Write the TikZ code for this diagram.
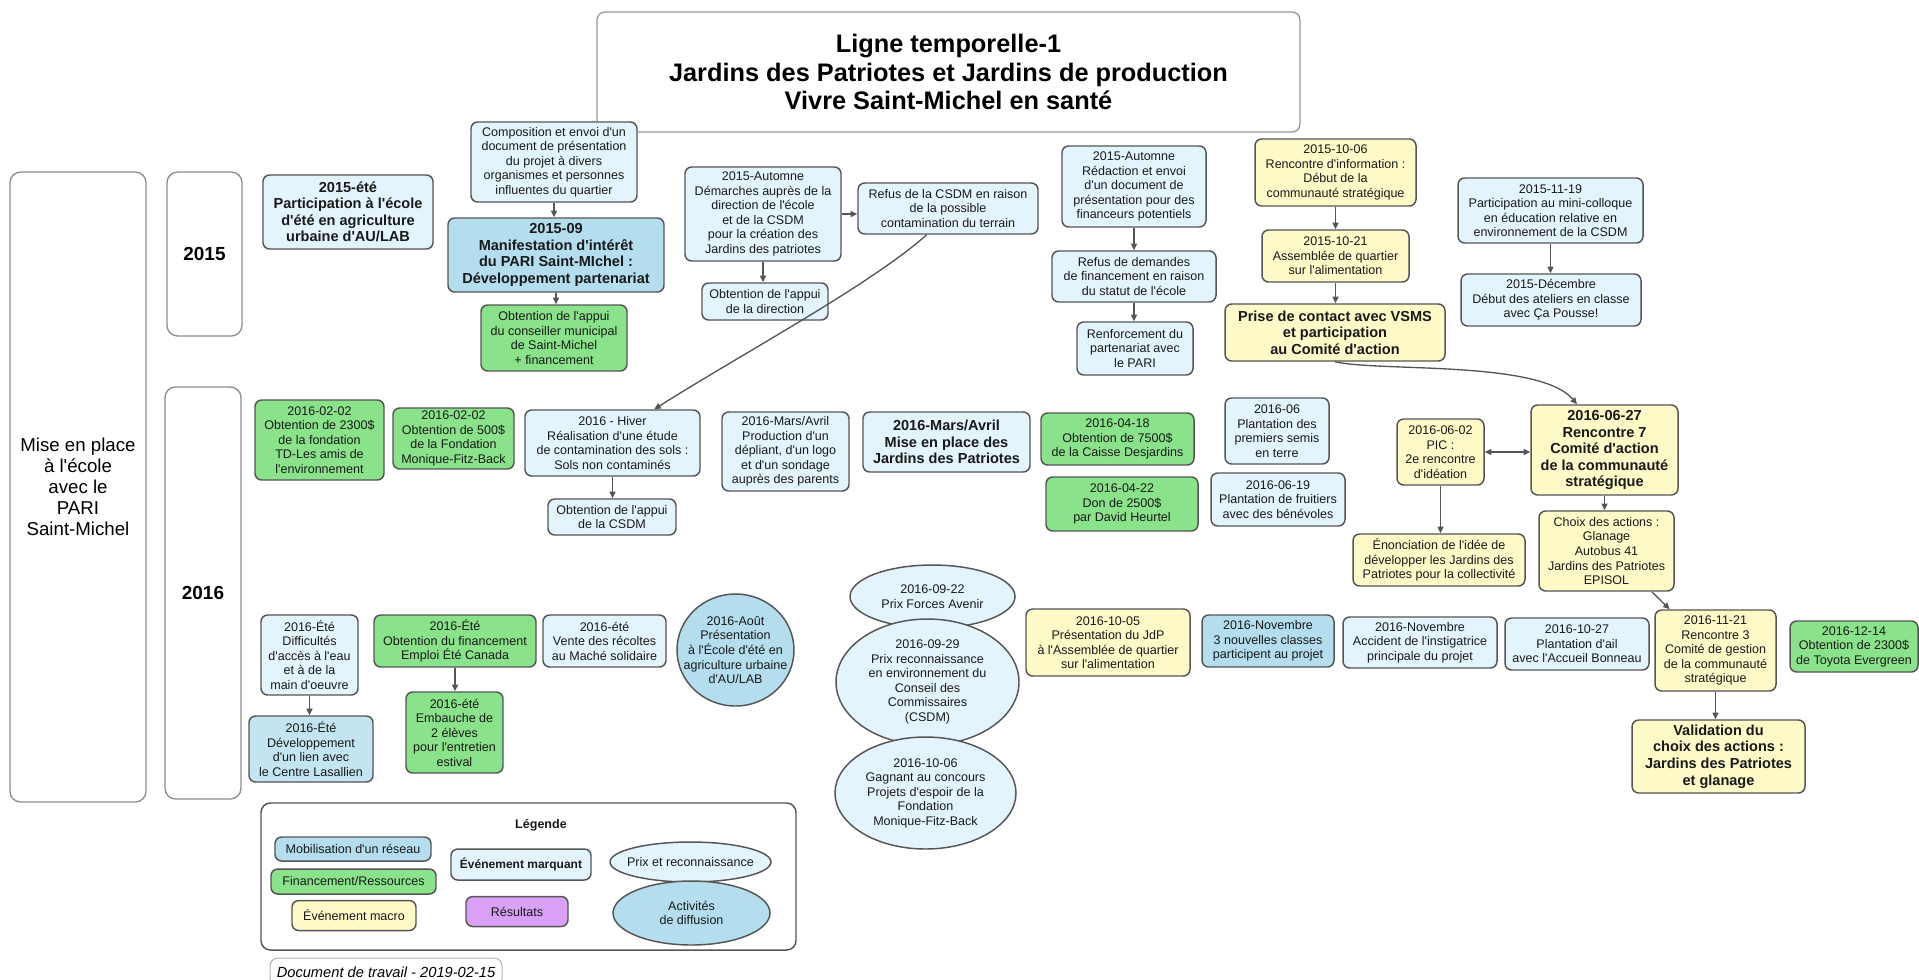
\documentclass[tikz,border=0pt]{standalone}
\usepackage{fontspec}
\setmainfont{Liberation Sans}[Ligatures=TeXOff]
\usetikzlibrary{arrows.meta,shapes.geometric}

\definecolor{pale}{RGB}{228,244,252}
\definecolor{mob}{RGB}{180,221,238}
\definecolor{fin}{RGB}{138,226,138}
\definecolor{macro}{RGB}{253,250,200}
\definecolor{res}{RGB}{218,160,245}
\definecolor{bord}{RGB}{85,85,85}
\definecolor{cadre}{RGB}{140,140,140}

\tikzset{every picture/.style={line width=0.75pt}}
\tikzset{
  wh/.style 2 args={minimum width=#1*0.75pt,minimum height=#2*0.75pt},
  evt/.style={draw=bord,line width=1.1pt,rounded corners=5pt,inner sep=0pt,align=center,text=black!90,font=\fontsize{9.4}{10.9}\selectfont},
  fort/.style={font=\bfseries\fontsize{10.9}{12.4}\selectfont},
  pl/.style={evt,fill=pale},
  mb/.style={evt,fill=mob},
  fn/.style={evt,fill=fin},
  mc/.style={evt,fill=macro},
  rs/.style={evt,fill=res},
  elli/.style={ellipse,draw=bord,line width=1.1pt,inner sep=0pt},
  etxt/.style={align=center,inner sep=0pt,text=black!90,font=\fontsize{9.4}{10.9}\selectfont},
  cadrebox/.style={draw=cadre,line width=1pt,rounded corners=8pt,fill=white,inner sep=0pt,align=center},
  fl/.style={draw=bord,line width=1pt,-{Triangle[length=5pt,width=4.5pt]}},
}

\begin{document}
\begin{tikzpicture}[x=0.75pt,y=0.75pt,yscale=-1,xscale=1]
\useasboundingbox (0,0) rectangle (1919,979);
\clip (0,0) rectangle (1919,979);

%Shape: Frames
\node[cadrebox,wh={136}{630},font=\fontsize{14}{15.75}\selectfont] (ecole) at (78,487) {Mise en place\\à l'école\\avec le\\PARI\\Saint-Michel};
\node[cadrebox,wh={75}{164},font=\bfseries\fontsize{14.2}{16}\selectfont] (an15) at (204.5,254) {2015};
\node[cadrebox,wh={76}{412},font=\bfseries\fontsize{14.2}{16}\selectfont] (an16) at (203,593) {2016};
\node[cadrebox,draw=black!40,rounded corners=6pt,wh={703}{120},font=\bfseries\fontsize{19}{21.4}\selectfont] (titre) at (948.5,72) {Ligne temporelle-1\\Jardins des Patriotes et Jardins de production\\Vivre Saint-Michel en santé};

% Text Node : 2015
\node[pl,fort,wh={170}{74}] (ete15) at (348,212) {2015-été\\Participation à l'école\\d'été en agriculture\\urbaine d'AU/LAB};
\node[pl,wh={166}{80}] (compo) at (554,162) {Composition et envoi d'un\\document de présentation\\du projet à divers\\organismes et personnes\\influentes du quartier};
\node[mb,fort,wh={216}{74}] (manif) at (556,255) {2015-09\\Manifestation d'intérêt\\du PARI Saint-MIchel :\\Développement partenariat};
\node[fn,wh={146}{66}] (conseil) at (554,338) {Obtention de l'appui\\du conseiller municipal\\de Saint-Michel\\+ financement};
\node[pl,wh={156}{94}] (demarche) at (763,214) {2015-Automne\\Démarches auprès de la\\direction de l'école\\et de la CSDM\\pour la création des\\Jardins des patriotes};
\node[pl,wh={126}{37}] (direction) at (765,301.5) {Obtention de l'appui\\de la direction};
\node[pl,wh={180}{51}] (refus) at (948,208.5) {Refus de la CSDM en raison\\de la possible\\contamination du terrain};
\node[pl,wh={144}{81}] (redac) at (1134,186.5) {2015-Automne\\Rédaction et envoi\\d'un document de\\présentation pour des\\financeurs potentiels};
\node[pl,wh={164}{51}] (refusfin) at (1134,276.5) {Refus de demandes\\de financement en raison\\du statut de l'école};
\node[pl,wh={116}{53}] (renfo) at (1135,348.5) {Renforcement du\\partenariat avec\\le PARI};
\node[mc,wh={161}{67}] (info) at (1335.5,172.5) {2015-10-06\\Rencontre d'information :\\Début de la\\communauté stratégique};
\node[mc,wh={147}{52}] (assemb) at (1335.5,256) {2015-10-21\\Assemblée de quartier\\sur l'alimentation};
\node[mc,fort,wh={220}{57}] (prise) at (1335,332.5) {Prise de contact avec VSMS\\et participation\\au Comité d'action};
\node[pl,wh={185}{65}] (colloque) at (1550.5,210.5) {2015-11-19\\Participation au mini-colloque\\en éducation relative en\\environnement de la CSDM};
\node[pl,wh={180}{52}] (decembre) at (1551,300) {2015-Décembre\\Début des ateliers en classe\\avec Ça Pousse!};

% Text Node : 2016
\node[fn,wh={129}{80}] (td) at (319.5,440) {2016-02-02\\Obtention de 2300\$\\de la fondation\\TD-Les amis de\\l'environnement};
\node[fn,wh={121}{61}] (fitz) at (453.5,438.5) {2016-02-02\\Obtention de 500\$\\de la Fondation\\Monique-Fitz-Back};
\node[pl,wh={175}{66}] (hiver) at (612.5,443) {2016 - Hiver\\Réalisation d'une étude\\de contamination des sols :\\Sols non contaminés};
\node[pl,wh={128}{36}] (appuicsdm) at (612,517) {Obtention de l'appui\\de la CSDM};
\node[pl,wh={127}{79}] (depliant) at (785.5,451.5) {2016-Mars/Avril\\Production d'un\\dépliant, d'un logo\\et d'un sondage\\auprès des parents};
\node[pl,fort,wh={167}{60}] (miseplace) at (946.5,442) {2016-Mars/Avril\\Mise en place des\\Jardins des Patriotes};
\node[fn,wh={153}{52}] (desj) at (1117.5,439) {2016-04-18\\Obtention de 7500\$\\de la Caisse Desjardins};
\node[fn,wh={152}{54}] (heurtel) at (1122,504) {2016-04-22\\Don de 2500\$\\par David Heurtel};
\node[pl,wh={104}{66}] (semis) at (1277,431) {2016-06\\Plantation des\\premiers semis\\en terre};
\node[pl,wh={134}{53}] (fruitiers) at (1278,499.5) {2016-06-19\\Plantation de fruitiers\\avec des bénévoles};
\node[mc,wh={87}{66}] (pic) at (1440.5,452) {2016-06-02\\PIC :\\2e rencontre\\d'idéation};
\node[mc,fort,wh={147}{90}] (r7) at (1604.5,450) {2016-06-27\\Rencontre 7\\Comité d'action\\de la communauté\\stratégique};
\node[mc,wh={172}{52}] (enonce) at (1439,560) {Énonciation de l'idée de\\développer les Jardins des\\Patriotes pour la collectivité};
\node[mc,wh={135}{80}] (choix) at (1606.5,551) {Choix des actions :\\Glanage\\Autobus 41\\Jardins des Patriotes\\EPISOL};

\node[pl,wh={97}{80}] (difficulte) at (309.5,655) {2016-Été\\Difficultés\\d'accès à l'eau\\et à de la\\main d'oeuvre};
\node[mb,fill=mob!80!white,wh={124}{66}] (devel) at (311,749) {2016-Été\\Développement\\d'un lien avec\\le Centre Lasallien};
\node[fn,wh={162}{52}] (finemploi) at (455,641) {2016-Été\\Obtention du financement\\Emploi Été Canada};
\node[fn,wh={97}{81}] (embauche) at (454.5,732.5) {2016-été\\Embauche de\\2 élèves\\pour l'entretien\\estival};
\node[pl,wh={123}{52}] (vente) at (604.5,641) {2016-été\\Vente des récoltes\\au Maché solidaire};

%Shape: Ellipses
\node[elli,fill=mob,wh={117}{112}] (aout) at (735.5,650) {};
\node[etxt] (aout-t) at (aout) {2016-Août\\Présentation\\à l'École d'été en\\agriculture urbaine\\d'AU/LAB};
\node[elli,fill=pale,wh={165}{63}] (forces) at (932.5,596.5) {};
\node[etxt] (forces-t) at (forces) {2016-09-22\\Prix Forces Avenir};
\node[elli,fill=pale,wh={183}{126}] (csdmprix) at (927.5,682) {};
\node[etxt] (csdmprix-t) at (csdmprix) {2016-09-29\\Prix reconnaissance\\en environnement du\\Conseil des\\Commissaires\\(CSDM)};
\node[elli,fill=pale,wh={181}{112}] (espoir) at (925.5,793) {};
\node[etxt] (espoir-t) at (espoir) {2016-10-06\\Gagnant au concours\\Projets d'espoir de la\\Fondation\\Monique-Fitz-Back};

\node[mc,wh={164}{67}] (jdp) at (1108,642.5) {2016-10-05\\Présentation du JdP\\à l'Assemblée de quartier\\sur l'alimentation};
\node[mb,wh={132}{52}] (nov3) at (1268,641) {2016-Novembre\\3 nouvelles classes\\participent au projet};
\node[pl,wh={154}{51}] (accident) at (1420,642.5) {2016-Novembre\\Accident de l'instigatrice\\principale du projet};
\node[pl,wh={144}{52}] (oct27) at (1577,644) {2016-10-27\\Plantation d'ail\\avec l'Accueil Bonneau};
\node[mc,wh={121}{81}] (r3) at (1715.5,650.5) {2016-11-21\\Rencontre 3\\Comité de gestion\\de la communauté\\stratégique};
\node[fn,wh={128}{51}] (toyota) at (1854,646.5) {2016-12-14\\Obtention de 2300\$\\de Toyota Evergreen};
\node[mc,fort,wh={173}{73}] (valid) at (1718.5,756.5) {Validation du\\choix des actions :\\Jardins des Patriotes\\et glanage};

%Straight Lines
\draw[fl] (compo.south) -- (compo.south |- manif.north);
\draw[fl] (manif.south) -- (manif.south |- conseil.north);
\draw[fl] (demarche.south) -- (demarche.south |- direction.north);
\draw[fl] (demarche.east) -- (demarche.east -| refus.west);
\draw[fl] (redac.south) -- (redac.south |- refusfin.north);
\draw[fl] (refusfin.south) -- (refusfin.south |- renfo.north);
\draw[fl] (info.south) -- (info.south |- assemb.north);
\draw[fl] (assemb.south) -- (assemb.south |- prise.north);
\draw[fl] (colloque.south) -- (colloque.south |- decembre.north);
\draw[fl] (hiver.south) -- (hiver.south |- appuicsdm.north);
\draw[fl,{Triangle[length=5pt,width=4.5pt]}-{Triangle[length=5pt,width=4.5pt]}] (pic.east) -- (pic.east -| r7.west);
\draw[fl] (pic.south) -- (pic.south |- enonce.north);
\draw[fl] (r7.south) -- (r7.south |- choix.north);
\draw[fl] (choix.-42) -- (r3.138);
\draw[fl] (r3.south) -- (r3.south |- valid.north);
\draw[fl] (difficulte.south) -- (difficulte.south |- devel.north);
\draw[fl] (finemploi.south) -- (finemploi.south |- embauche.north);
%Curve Lines
\draw[fl] (refus.-129) .. controls (870,285) and (745,352) .. (hiver.39);
\draw[fl] (prise.south) .. controls (1380,372) and (1540,360) .. (r7.121);

%Shape: Legend
\node[evt,draw=bord,wh={535}{147},rounded corners=7pt] (legende) at (528.5,876.5) {};
\node[etxt,font=\bfseries\fontsize{9.4}{10.9}\selectfont] (legende-t) at (541,825) {Légende};
\node[mb,wh={156}{24}] (lmob) at (353,849) {Mobilisation d'un réseau};
\node[fn,wh={165}{25}] (lfin) at (353.5,881.5) {Financement/Ressources};
\node[mc,wh={124}{30}] (lmacro) at (354,915.5) {Événement macro};
\node[pl,wh={140}{31},font=\bfseries\fontsize{9}{10.8}\selectfont] (lmarq) at (521,864.5) {Événement marquant};
\node[rs,wh={102}{30}] (lres) at (517,911.5) {Résultats};
\node[elli,fill=pale,wh={161}{40}] (lprix) at (690.5,862) {};
\node[etxt] (lprix-t) at (lprix) {Prix et reconnaissance};
\node[elli,fill=mob,wh={157}{64}] (ldiff) at (691.5,913) {};
\node[etxt] (ldiff-t) at (ldiff) {Activités\\de diffusion};

% Text Node
\node[draw=black!30,rounded corners=6pt,wh={232}{28},inner sep=0pt,font=\itshape\fontsize{11}{13}\selectfont] (doc) at (386,972) {Document de travail - 2019-02-15};

\end{tikzpicture}
\end{document}
